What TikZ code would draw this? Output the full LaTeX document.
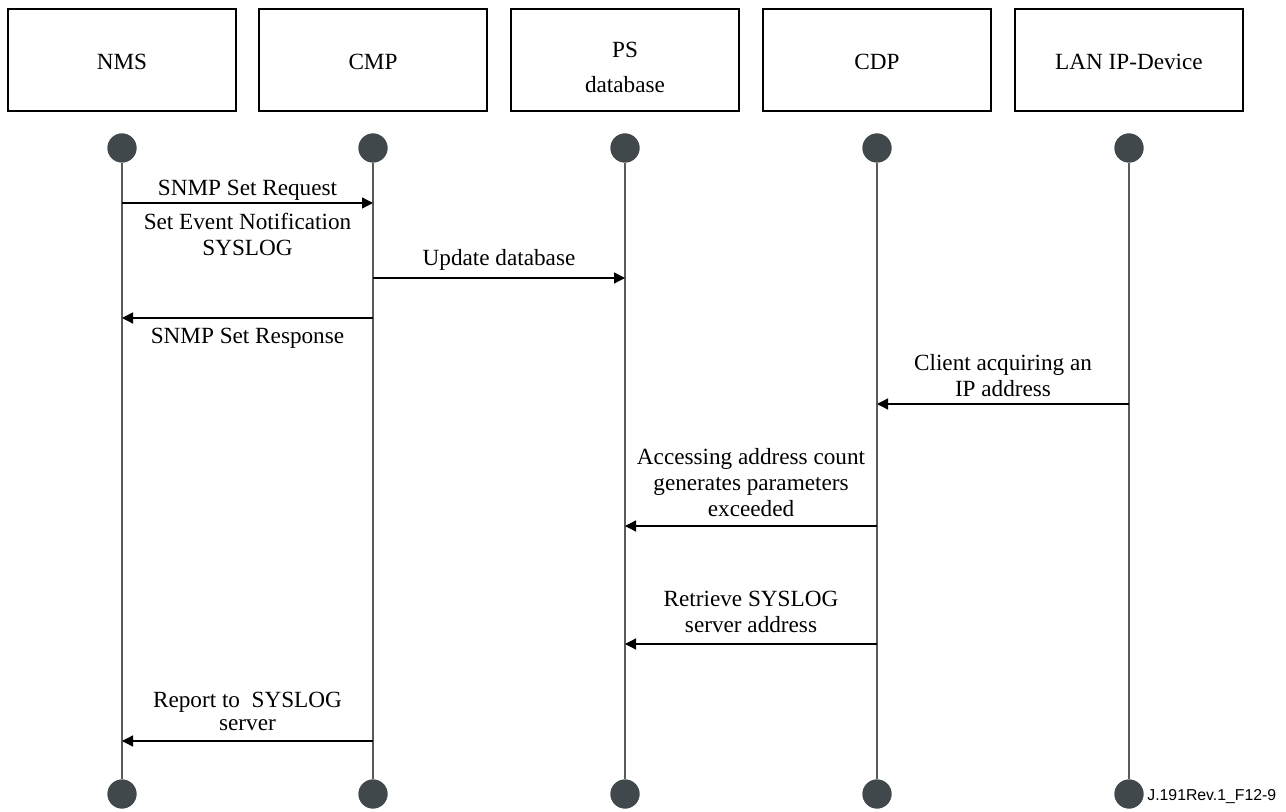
\documentclass[tikz,border=0pt]{standalone}
\usepackage{fontspec}
\setmainfont{Liberation Serif}
\newfontfamily\figsans{Liberation Sans}
\usetikzlibrary{arrows.meta}
\definecolor{dotgray}{HTML}{41484B}
\definecolor{lifegray}{HTML}{5A5A5A}

\begin{document}
\begin{tikzpicture}[x=0.5pt,y=-0.5pt,
  entity/.style={draw=black, line width=1pt, minimum width=114pt,
    minimum height=51pt, inner sep=0pt, align=center,
    font=\fontsize{11.6}{17.5}\selectfont},
  dot/.style={circle, fill=dotgray, minimum size=14.5pt, inner sep=0pt},
  lifeline/.style={draw=lifegray, line width=0.7pt},
  msg/.style={draw=black, line width=0.65pt,
    -{Triangle[length=5.5pt,width=5.5pt]}},
  lbl/.style={font=\fontsize{11.6}{13}\selectfont, align=center, inner sep=0pt}]
\useasboundingbox (0,0) rectangle (1286,812);

% entities
\node[entity] (nms) at (122,60) {\rule{0pt}{9.5pt}NMS};
\node[entity] (cmp) at (373,60) {\rule{0pt}{9.5pt}CMP};
\node[entity] (ps)  at (625,60) {\rule{0pt}{15pt}PS\\database};
\node[entity] (cdp) at (877,60) {\rule{0pt}{9.5pt}CDP};
\node[entity] (lan) at (1129,60) {\rule{0pt}{9.5pt}LAN IP-Device};

% lifeline end points
\foreach \n/\x in {nms/122, cmp/373, ps/625, cdp/877, lan/1129}{
  \node[dot] (\n T) at (\x,148) {};
  \node[dot] (\n B) at (\x,794) {};
}
\foreach \n in {nms, cmp, ps, cdp, lan}{
  \draw[lifeline] (\n T) -- (\n B);
}
% redraw the dots above the lines
\foreach \n in {nms, cmp, ps, cdp, lan}{
  \fill[dotgray] (\n T) circle[radius=7.25pt];
  \fill[dotgray] (\n B) circle[radius=7.25pt];
}

% message rows
\coordinate (r1) at (0,203);
\coordinate (r2) at (0,278);
\coordinate (r3) at (0,318);
\coordinate (r4) at (0,404);
\coordinate (r5) at (0,526);
\coordinate (r6) at (0,644);
\coordinate (r7) at (0,741);

\draw[msg] (nmsT |- r1) -- (cmpT |- r1);
\draw[msg] (cmpT |- r2) -- (psT |- r2);
\draw[msg] (cmpT |- r3) -- (nmsT |- r3);
\draw[msg] (lanT |- r4) -- (cdpT |- r4);
\draw[msg] (cdpT |- r5) -- (psT |- r5);
\draw[msg] (cdpT |- r6) -- (psT |- r6);
\draw[msg] (cmpT |- r7) -- (nmsT |- r7);

% message labels
\node[lbl] (l1) at (247.5,190) {SNMP Set Request};
\node[lbl] (l2) at (247.5,234.5) {Set Event Notification\\SYSLOG};
\node[lbl] (l3) at (499,259.5) {Update database};
\node[lbl] (l4) at (247.5,338) {SNMP Set Response};
\node[lbl] (l5) at (1003,375.5) {Client acquiring an\\IP address};
\node[lbl] (l6) at (751,483) {Accessing address count\\generates parameters\\exceeded};
\node[lbl] (l7) at (751,612) {Retrieve SYSLOG\\server address};
\node[lbl] (l8) at (247.5,711) {Report to\ \ SYSLOG\\[-1.5pt]server};

% figure tag
\node[anchor=base west, inner sep=0pt, font=\figsans\fontsize{7.9}{9}\selectfont]
  (tag) at (1147,800.5) {J.191Rev.1\_F12-9};
\end{tikzpicture}
\end{document}
